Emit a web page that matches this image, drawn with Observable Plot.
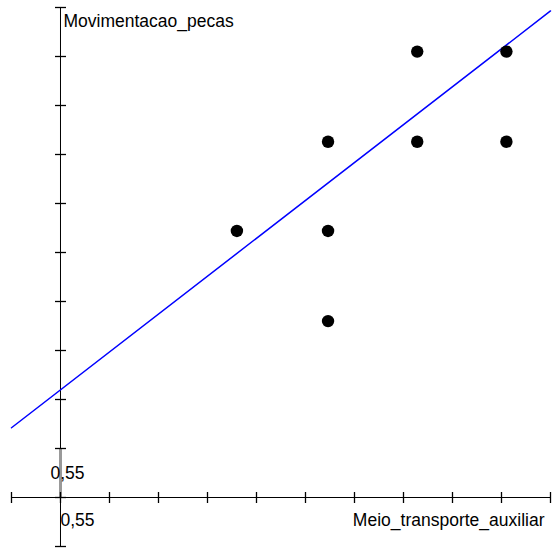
<!DOCTYPE html>
<html>
<head>
<meta charset="utf-8">
<script src="https://cdn.jsdelivr.net/npm/d3@7"></script>
<script src="https://cdn.jsdelivr.net/npm/@observablehq/plot@0.6"></script>
<style>
  html, body { margin: 0; padding: 0; background: #fff; }
</style>
</head>
<body>
<div id="chart"></div>
<script>
// Data
const xValues = [0.73, 0.823, 0.823, 0.823, 0.914, 0.914, 1.005, 1.005];
const yValues = [0.822, 0.913, 0.822, 0.73, 1.005, 0.913, 1.005, 0.913];
// Fitted line y = intercept + slope * x
const lineIntercept = 0.2346;
const lineSlope = 0.7732;
// Axes
const origin = 0.55;
const axisRange = [0.5, 1.05];
const tickValues = d3.range(0, 12).map(i => +(0.5 + i * 0.05).toFixed(2));
const highlightRange = [0.55, 0.60];
const xLabel = "Meio_transporte_auxiliar";
const yLabel = "Movimentacao_pecas";
const originLabel = "0,55";

const points = xValues.map((x, i) => ({x, y: yValues[i]}));
const lineData = axisRange.map(x => ({x, y: lineIntercept + lineSlope * x}));

const vTick = {draw(ctx, size) { const r = Math.sqrt(size / Math.PI); ctx.moveTo(0, -r); ctx.lineTo(0, r); }};
const hTick = {draw(ctx, size) { const r = Math.sqrt(size / Math.PI); ctx.moveTo(-r, 0); ctx.lineTo(r, 0); }};

const font = "'Liberation Sans', Arial, sans-serif";
const fs = 17.5;

const chart = Plot.plot({
  width: 553,
  height: 550,
  margin: 0,
  style: {fontFamily: font, fontSize: fs + "px", background: "#fff", overflow: "visible"},
  x: {type: "linear", domain: [0.48878, 1.05306], axis: null},
  y: {type: "linear", domain: [0.49592, 1.05714], axis: null},
  marks: [
    // axis lines
    Plot.ruleY([origin], {x1: axisRange[0], x2: axisRange[1], stroke: "#000", strokeWidth: 1}),
    Plot.ruleX([origin], {y1: axisRange[0], y2: axisRange[1], stroke: "#000", strokeWidth: 1}),
    // highlighted segment on y axis
    Plot.ruleX([origin], {y1: highlightRange[0], y2: highlightRange[1], stroke: "#999", strokeWidth: 3}),
    // ticks
    Plot.dot(tickValues, {x: d => d, y: origin, symbol: vTick, r: 5.5, stroke: "#000", fill: "none", strokeWidth: 1.3}),
    Plot.dot(tickValues, {x: origin, y: d => d, symbol: hTick, r: 5.5, stroke: "#000", fill: "none", strokeWidth: 1.3}),
    // regression line
    Plot.line(lineData, {x: "x", y: "y", stroke: "#0000ff", strokeWidth: 1.5}),
    // points
    Plot.dot(points, {x: "x", y: "y", r: 6.2, fill: "#000", stroke: "none"}),
    // labels
    Plot.text([yLabel], {x: origin, y: axisRange[1], text: d => d, textAnchor: "start", lineAnchor: "bottom", dx: 3, dy: 20, fill: "#000", fontSize: fs, fontFamily: font}),
    Plot.text([xLabel], {x: axisRange[1], y: origin, text: d => d, textAnchor: "end", lineAnchor: "bottom", dx: -6, dy: 28, fill: "#000", fontSize: fs, fontFamily: font}),
    Plot.text([originLabel], {x: origin, y: origin, text: d => d, textAnchor: "start", lineAnchor: "bottom", dx: 0, dy: 28, fill: "#000", fontSize: fs, fontFamily: font}),
    Plot.text([originLabel], {x: origin, y: origin, text: d => d, textAnchor: "start", lineAnchor: "bottom", dx: -10, dy: -19, fill: "#000", fontSize: fs, fontFamily: font})
  ]
});
document.getElementById("chart").appendChild(chart);
</script>
</body>
</html>
